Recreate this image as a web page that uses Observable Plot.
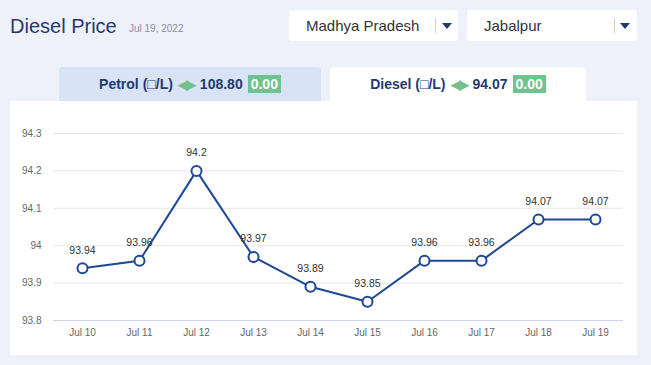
<!DOCTYPE html>
<html>
<head>
<meta charset="utf-8">
<script src="https://cdn.jsdelivr.net/npm/d3@7"></script>
<script src="https://cdn.jsdelivr.net/npm/@observablehq/plot@0.6"></script>
<style>
  html, body { margin: 0; padding: 0; }
  body { width: 651px; height: 365px; background: #eef1fa; position: relative; overflow: hidden; font-family: "Liberation Sans", Arial, sans-serif; }
  .abs { position: absolute; }
  #title { left: 10px; top: 15px; font-size: 20px; color: #1f3a70; }
  #date { left: 129px; top: 23px; font-size: 10px; color: #8a8f9c; }
  .dd { background: #fff; border-radius: 3px; height: 31px; top: 10px; }
  .dd .lbl { position: absolute; left: 17px; top: 7px; font-size: 15px; color: #333; }
  .dd .sep { position: absolute; top: 8px; width: 1px; height: 15px; background: #cfcfcf; }
  .dd .arr { position: absolute; top: 13px; width: 0; height: 0; border-left: 5px solid transparent; border-right: 5px solid transparent; border-top: 6px solid #1f3a70; }
  .tab { top: 67px; height: 34px; border-radius: 4px 4px 0 0; display: flex; align-items: center; justify-content: center; font-size: 14px; font-weight: bold; color: #1f3a70; }
  .tab .g { color: #72c08e; font-size: 13px; margin: 0 6px 0 5px; letter-spacing: -2px; }
  .tab .badge { background: #6fc38f; color: #fff; padding: 1px 3px; margin-left: 5px; font-size: 14px; }
  #panel { left: 10px; top: 101px; width: 627px; height: 254px; background: #fff; }
</style>
</head>
<body>
<div id="title" class="abs">Diesel Price</div>
<div id="date" class="abs">Jul 19, 2022</div>
<div class="abs dd" style="left:289px;width:169px"><span class="lbl">Madhya Pradesh</span><span class="sep" style="left:146px"></span><span class="arr" style="left:153px"></span></div>
<div class="abs dd" style="left:467px;width:170px"><span class="lbl">Jabalpur</span><span class="sep" style="left:147px"></span><span class="arr" style="left:153px"></span></div>
<div class="abs tab" style="left:59px;width:262px;background:#d9e3f6">Petrol (□/L)<span class="g">◀▶</span>108.80<span class="badge">0.00</span></div>
<div class="abs tab" style="left:330px;width:256px;background:#fff">Diesel (□/L)<span class="g">◀▶</span>94.07<span class="badge">0.00</span></div>
<div id="panel" class="abs"></div>
<script>
const dates = ["Jul 10", "Jul 11", "Jul 12", "Jul 13", "Jul 14", "Jul 15", "Jul 16", "Jul 17", "Jul 18", "Jul 19"];
const prices = [93.94, 93.96, 94.2, 93.97, 93.89, 93.85, 93.96, 93.96, 94.07, 94.07];
const priceLabels = ["93.94", "93.96", "94.2", "93.97", "93.89", "93.85", "93.96", "93.96", "94.07", "94.07"];
const yTicks = [93.8, 93.9, 94, 94.1, 94.2, 94.3];
const yTickLabels = ["93.8", "93.9", "94", "94.1", "94.2", "94.3"];

const data = dates.map((d, i) => ({date: d, price: prices[i], label: priceLabels[i]}));
const lineColor = "#1e4895";

const chart = Plot.plot({
  width: 627,
  height: 254,
  marginTop: 32,
  marginBottom: 35,
  marginLeft: 43,
  marginRight: 14,
  style: {fontFamily: "Liberation Sans, Arial, sans-serif", background: "transparent", overflow: "visible"},
  x: {type: "point", domain: dates, padding: 0.5, label: null},
  y: {domain: [93.8, 94.3], label: null},
  marks: [
    Plot.ruleY(yTicks.slice(1), {stroke: "#e6e6e6", strokeWidth: 1}),
    Plot.ruleY([93.8], {stroke: "#ccd6eb", strokeWidth: 1}),
    Plot.axisY({ticks: yTicks, tickSize: 0, tickPadding: 12, tickFormat: (d) => yTickLabels[yTicks.indexOf(d)], fontSize: 10, fill: "#666", label: null}),
    Plot.axisX({tickSize: 0, tickPadding: 8, fontSize: 10, fill: "#666", label: null}),
    Plot.line(data, {x: "date", y: "price", stroke: lineColor, strokeWidth: 2}),
    Plot.dot(data, {x: "date", y: "price", r: 5, fill: "#fff", stroke: lineColor, strokeWidth: 2}),
    Plot.text(data, {x: "date", y: "price", text: "label", dy: -18, fontSize: 10.5, fill: "#333"})
  ]
});
document.getElementById("panel").appendChild(chart);
</script>
</body>
</html>
